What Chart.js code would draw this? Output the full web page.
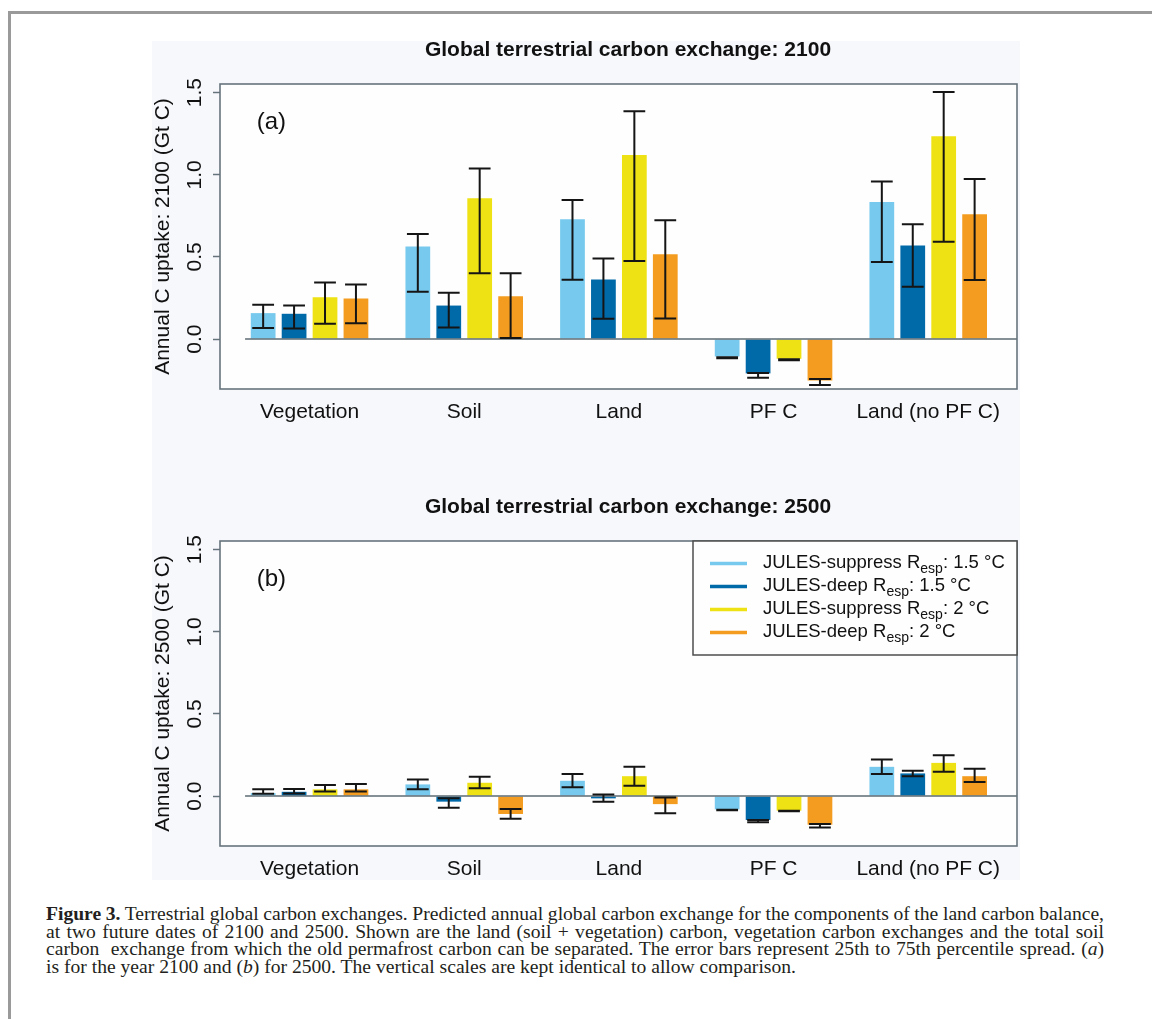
<!DOCTYPE html>
<html>
<head>
<meta charset="utf-8">
<title>Global terrestrial carbon exchange</title>
<script src="https://cdn.jsdelivr.net/npm/chart.js@4.4.1/dist/chart.umd.min.js"></script>
<style>
  body { margin: 0; background: #fff; }
  #frame { position: absolute; left: 8px; top: 11px; right: 0; bottom: 0; border-top: 3px solid #9a9a9a; border-left: 3px solid #9a9a9a; }
  #fig { position: absolute; left: 152px; top: 41px; width: 868px; height: 839px; background: #f7f8fc; }
  canvas { position: absolute; }
  #caption { position: absolute; left: 46px; top: 905px; width: 1058px; font-family: "Liberation Serif", "Times New Roman", serif; font-size: 19.6px; line-height: 17.5px; color: #231f20; }
  #caption .ln { text-align: justify; text-align-last: justify; word-spacing: -1.5px; }
</style>
</head>
<body>
<div id="frame"></div>
<div id="fig"></div>
<canvas id="chart2100" width="869" height="404" style="left:151px;top:36px"></canvas>
<canvas id="chart2500" width="869" height="404" style="left:151px;top:493px"></canvas>
<div id="caption">
  <div class="ln"><b>Figure 3.</b> Terrestrial global carbon exchanges. Predicted annual global carbon exchange for the components of the land carbon balance,</div>
  <div class="ln">at two future dates of 2100 and 2500. Shown are the land (soil + vegetation) carbon, vegetation carbon exchanges and the total soil</div>
  <div class="ln">carbon&nbsp; exchange from which the old permafrost carbon can be separated. The error bars represent 25th to 75th percentile spread. (<i>a</i>)</div>
  <div>is for the year 2100 and (<i>b</i>) for 2500. The vertical scales are kept identical to allow comparison.</div>
</div>
<script>
var categories = ['Vegetation', 'Soil', 'Land', 'PF C', 'Land (no PF C)']
var seriesNames = ['JULES-suppress R_{esp}: 1.5 °C', 'JULES-deep R_{esp}: 1.5 °C', 'JULES-suppress R_{esp}: 2 °C', 'JULES-deep R_{esp}: 2 °C']
var seriesColors = ['#77c9ed', '#0069a8', '#eee215', '#f39c1f']
var yTicks = [0, 0.5, 1.0, 1.5]
var yTickLabels = ['0.0', '0.5', '1.0', '1.5']

// one row per series, one column per category
var mean2100 = [
    [0.158, 0.563, 0.730, -0.106, 0.835],
    [0.154, 0.204, 0.363, -0.209, 0.569],
    [0.255, 0.858, 1.121, -0.120, 1.235],
    [0.247, 0.261, 0.517, -0.252, 0.760]
]
var p25_2100 = [
    [0.067, 0.288, 0.361, -0.117, 0.470],
    [0.065, 0.071, 0.123, -0.235, 0.318],
    [0.093, 0.401, 0.476, -0.129, 0.592],
    [0.097, 0.006, 0.125, -0.280, 0.359]
]
var p75_2100 = [
    [0.209, 0.640, 0.847, -0.111, 0.959],
    [0.204, 0.282, 0.490, -0.207, 0.699],
    [0.344, 1.038, 1.387, -0.123, 1.504],
    [0.332, 0.401, 0.724, -0.243, 0.975]
]

var mean2500 = [
    [0.018, 0.071, 0.093, -0.081, 0.178],
    [0.026, -0.034, -0.014, -0.146, 0.138],
    [0.041, 0.081, 0.121, -0.089, 0.202],
    [0.041, -0.109, -0.049, -0.174, 0.121]
]
var p25_2500 = [
    [0.014, 0.041, 0.053, -0.087, 0.134],
    [0.016, -0.071, -0.034, -0.160, 0.121],
    [0.028, 0.047, 0.063, -0.093, 0.148],
    [0.028, -0.138, -0.105, -0.192, 0.085]
]
var p75_2500 = [
    [0.041, 0.101, 0.135, -0.083, 0.223],
    [0.043, -0.014, 0.010, -0.146, 0.154],
    [0.067, 0.117, 0.178, -0.089, 0.249],
    [0.073, -0.079, -0.008, -0.170, 0.166]
]

Chart.defaults.font.family = '"Liberation Sans", Arial, sans-serif'
Chart.defaults.color = '#111'

// R-style panel: white plot box, zero line, error bars, title, panel letter, legend
var panelPlugin = {
    id: 'panel',
    beforeDraw: function (chart) {
        var a = chart.chartArea, ctx = chart.ctx
        ctx.save()
        ctx.fillStyle = '#fffefe'
        ctx.fillRect(a.left, a.top, a.right - a.left, a.bottom - a.top)
        ctx.restore()
    },
    afterDatasetsDraw: function (chart, args, opts) {
        var a = chart.chartArea, ctx = chart.ctx
        var x = chart.scales.x, y = chart.scales.y
        var y0 = y.getPixelForValue(0)
        ctx.save()
        ctx.strokeStyle = '#5d6b73'
        ctx.lineWidth = 1.5
        ctx.beginPath()
        ctx.moveTo(x.getPixelForValue(opts.zeroFrom), y0)
        ctx.lineTo(a.right, y0)
        ctx.stroke()

        ctx.strokeStyle = '#151515'
        ctx.lineWidth = 2
        chart.data.datasets.forEach(function (ds, i) {
            chart.getDatasetMeta(i).data.forEach(function (bar, j) {
                var lo = y.getPixelForValue(ds.errLow[j])
                var hi = y.getPixelForValue(ds.errHigh[j])
                var w = bar.width * 0.44
                ctx.beginPath()
                ctx.moveTo(bar.x, lo); ctx.lineTo(bar.x, hi)
                ctx.moveTo(bar.x - w, lo); ctx.lineTo(bar.x + w, lo)
                ctx.moveTo(bar.x - w, hi); ctx.lineTo(bar.x + w, hi)
                ctx.stroke()
            })
        })
        ctx.restore()
    },
    afterDraw: function (chart, args, opts) {
        var a = chart.chartArea, ctx = chart.ctx
        var x = chart.scales.x, y = chart.scales.y
        ctx.save()
        ctx.strokeStyle = '#66737c'
        ctx.lineWidth = 1.6
        ctx.strokeRect(a.left, a.top, a.right - a.left, a.bottom - a.top)

        ctx.fillStyle = '#111'
        ctx.textAlign = 'center'
        ctx.textBaseline = 'middle'
        ctx.font = 'bold 21px "Liberation Sans", Arial, sans-serif'
        ctx.fillText(opts.title, (a.left + a.right) / 2 + 9.5, a.top - 34)

        ctx.font = '24px "Liberation Sans", Arial, sans-serif'
        ctx.fillText(opts.letter, x.getPixelForValue(0.753), y.getPixelForValue(1.32))

        if (opts.legend) {
            var bw = 324, bh = 114
            var bx = a.right - bw, by = a.top
            ctx.fillStyle = '#fffefe'
            ctx.fillRect(bx, by, bw, bh)
            ctx.strokeStyle = '#4d4d4d'
            ctx.lineWidth = 1.5
            ctx.strokeRect(bx, by, bw, bh)
            ctx.textAlign = 'left'
            ctx.textBaseline = 'alphabetic'
            chart.data.datasets.forEach(function (ds, k) {
                var ry = by + 22.5 + k * 23
                ctx.strokeStyle = ds.backgroundColor
                ctx.lineWidth = 3.5
                ctx.beginPath()
                ctx.moveTo(bx + 17, ry); ctx.lineTo(bx + 54, ry)
                ctx.stroke()
                var m = seriesNames[k].match(/^(.*)_\{(.*)\}(.*)$/)
                var tx = bx + 70
                ctx.fillStyle = '#111'
                ctx.font = '18.5px "Liberation Sans", Arial, sans-serif'
                ctx.fillText(m[1], tx, ry + 4)
                tx += ctx.measureText(m[1]).width
                ctx.font = '14px "Liberation Sans", Arial, sans-serif'
                ctx.fillText(m[2], tx, ry + 9)
                tx += ctx.measureText(m[2]).width
                ctx.font = '18.5px "Liberation Sans", Arial, sans-serif'
                ctx.fillText(m[3], tx, ry + 4)
            })
        }
        ctx.restore()
    }
}

function makeChart(id, means, lows, highs, title, yTitle, letter, showLegend) {
    return new Chart(
        document.getElementById(id),
        {
            type: 'bar',
            data: {
                datasets: seriesNames.map(function (name, s) {
                    return {
                        label: name.replace(/_\{(.*?)\}/, '$1'),
                        backgroundColor: seriesColors[s],
                        borderWidth: 0,
                        categoryPercentage: 0.8,
                        barPercentage: 0.8,
                        data: categories.map(function (c, i) { return { x: i + 1, y: means[s][i] } }),
                        errLow: lows[s],
                        errHigh: highs[s]
                    }
                })
            },
            options: {
                responsive: false,
                animation: false,
                devicePixelRatio: 1,
                layout: { padding: { top: 48, right: 3, left: 0, bottom: 0 } },
                plugins: {
                    legend: { display: false },
                    tooltip: { enabled: false },
                    panel: { title: title, letter: letter, legend: showLegend, zeroFrom: 0.583 }
                },
                scales: {
                    x: {
                        type: 'linear',
                        min: 0.421,
                        max: 5.574,
                        offset: false,
                        grid: { display: false, drawTicks: false },
                        border: { display: false },
                        afterBuildTicks: function (scale) {
                            scale.ticks = categories.map(function (c, i) { return { value: i + 1 } })
                        },
                        afterFit: function (scale) { scale.height = 51 },
                        ticks: {
                            autoSkip: false,
                            maxRotation: 0,
                            padding: 10.5,
                            font: { size: 21 },
                            callback: function (v, i) { return categories[i] }
                        }
                    },
                    y: {
                        min: -0.304,
                        max: 1.553,
                        afterBuildTicks: function (scale) {
                            scale.ticks = yTicks.map(function (v) { return { value: v } })
                        },
                        afterFit: function (scale) { scale.width = 69 },
                        grid: { drawOnChartArea: false, drawTicks: true, tickLength: 7, tickColor: '#66737c', tickWidth: 1.5 },
                        border: { display: false },
                        title: { display: true, text: yTitle, font: { size: 21 }, padding: 0 },
                        ticks: {
                            minRotation: 90,
                            maxRotation: 90,
                            crossAlign: 'center',
                            padding: 3,
                            autoSkip: false,
                            font: { size: 21 },
                            callback: function (v, i) { return yTickLabels[i] }
                        }
                    }
                }
            },
            plugins: [panelPlugin]
        }
    )
}

var chart2100 = makeChart('chart2100', mean2100, p25_2100, p75_2100,
    'Global terrestrial carbon exchange: 2100', 'Annual C uptake: 2100 (Gt C)', '(a)', false)
var chart2500 = makeChart('chart2500', mean2500, p25_2500, p75_2500,
    'Global terrestrial carbon exchange: 2500', 'Annual C uptake: 2500 (Gt C)', '(b)', true)
</script>
</body>
</html>
